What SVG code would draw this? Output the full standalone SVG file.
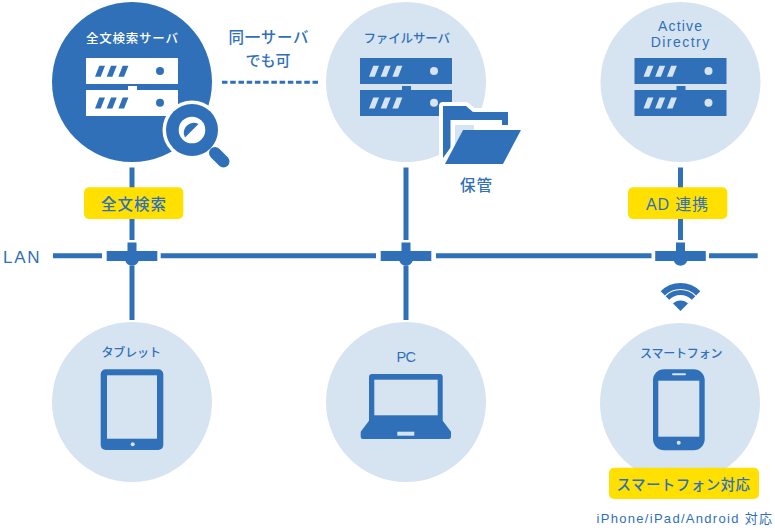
<svg xmlns="http://www.w3.org/2000/svg" xmlns:xlink="http://www.w3.org/1999/xlink" width="775" height="530" viewBox="0 0 775 530">
  <style>
    text { font-family: "Noto Sans CJK JP", "Noto Sans", sans-serif; font-weight: 500; fill: #2f70b9; text-anchor: start; }
    text.latin { font-family: "Liberation Sans", "Noto Sans CJK JP", sans-serif; font-weight: 400; }
    .disc { fill: #d6e3f0; }
    .disc-on { fill: #2f70b9; }
    .ink { fill: #2f70b9; }
    .paper { fill: #ffffff; }
    .tint { fill: #d6e3f0; }
    .pill { fill: #ffe000; }
    .wire { stroke: #2f70b9; stroke-width: 5; fill: none; }
    .wave { stroke: #2f70b9; fill: none; }
  </style>
  <defs>
    <g id="rack">
      <rect x="0" y="0" width="92" height="26"/>
      <path d="M0 32H42V28H51V32H92V58H0Z"/>
    </g>
    <g id="rack-marks">
      <g id="slashes">
        <path d="M9 18.7 13.3 7.7H19L14.7 18.7Z"/>
        <path d="M20.7 18.7 25 7.7H30.7L26.4 18.7Z"/>
        <path d="M32.4 18.7 36.7 7.7H42.4L38.1 18.7Z"/>
      </g>
      <use xlink:href="#slashes" href="#slashes" y="31.7"/>
      <circle cx="74" cy="13" r="4"/>
      <circle cx="74" cy="44.7" r="4"/>
    </g>
    <g id="tee">
      <path d="M-25.3 -5H-4.5V-13.5H4.5V-5H25.3V5H6.6A7 7 0 0 1 -6.6 5H-25.3Z"/>
    </g>
  </defs>

  <g id="connectors">
    <path class="wire" d="M53 255.8H102M160.7 255.8H376M436 255.8H651.5M709 255.8H757.7"/>
    <path class="wire" d="M132 167.5V240M132 265.5V320M406 167.5V240M406 265.5V320M680.5 167.5V240"/>
    <path d="M222 82.3H318" stroke="#2f70b9" stroke-width="3" stroke-dasharray="5.5 2.73" fill="none"/>
    <use xlink:href="#tee" href="#tee" class="ink" x="132" y="256"/>
    <use xlink:href="#tee" href="#tee" class="ink" x="406" y="256"/>
    <use xlink:href="#tee" href="#tee" class="ink" x="680.5" y="256"/>
  </g>

  <g id="lan-label">
    <text class="latin" x="3" y="263" font-size="17" textLength="36.5" lengthAdjust="spacing">LAN</text>
  </g>

  <g id="same-server-note">
    <text x="228.5" y="42.500" font-size="15.500" textLength="80" lengthAdjust="spacing">同一サーバ</text>
    <text x="245.500" y="66" font-size="15" textLength="45" lengthAdjust="spacing">でも可</text>
  </g>

  <g id="search-server">
    <circle class="disc-on" cx="132" cy="82" r="80"/>
    <text x="86" y="42.500" font-size="12.500" style="fill:#fff" textLength="92" lengthAdjust="spacing">全文検索サーバ</text>
    <use xlink:href="#rack" href="#rack" class="paper" x="86" y="58"/>
    <use xlink:href="#rack-marks" href="#rack-marks" class="ink" x="86" y="58"/>
    <g id="magnifier">
      <circle cx="192" cy="130" r="29.500" fill="#fff"/>
      <path d="M211 150 223 162" stroke="#fff" stroke-width="16" stroke-linecap="round"/>
      <circle class="ink" cx="192" cy="130" r="26"/>
      <circle class="paper" cx="192" cy="130" r="13.300"/>
      <path class="ink" d="M185 137.500A10 10 0 0 1 198.500 124Z"/>
      <path d="M215 153 223.500 161.500" stroke="#2f70b9" stroke-width="12" stroke-linecap="round"/>
    </g>
  </g>

  <g id="file-server">
    <circle class="disc" cx="406" cy="82" r="80"/>
    <text x="363.500" y="42.500" font-size="12.500" textLength="86.500" lengthAdjust="spacing">ファイルサーバ</text>
    <use xlink:href="#rack" href="#rack" class="ink" x="360" y="58"/>
    <use xlink:href="#rack-marks" href="#rack-marks" class="tint" x="360" y="58"/>
    <g id="folder">
      <path d="M443 106H466L473 112H508V130L521 130 503 164H445L443 160Z" fill="#fff" stroke="#fff" stroke-width="8" stroke-linejoin="round"/>
      <path class="ink" d="M443 106H466L473 112H508V125H443Z"/>
      <path class="ink" d="M443 120H451V147L443 158Z"/>
      <path class="paper" d="M450.500 120H502V130H463L450.500 156Z"/>
      <path class="tint" d="M455 125H474V130H463L455 146Z"/>
      <path class="ink" d="M463 130H521L503 164H445Z"/>
    </g>
    <text x="460" y="191" font-size="15.500" textLength="32" lengthAdjust="spacing">保管</text>
  </g>

  <g id="active-directory">
    <circle class="disc" cx="680.500" cy="82" r="80"/>
    <text class="latin" x="658" y="31" font-size="14" textLength="44" lengthAdjust="spacing">Active</text>
    <text class="latin" x="650.700" y="47.300" font-size="14" textLength="58.500" lengthAdjust="spacing">Directry</text>
    <use xlink:href="#rack" href="#rack" class="ink" x="634.500" y="58"/>
    <use xlink:href="#rack-marks" href="#rack-marks" class="tint" x="634.500" y="58"/>
  </g>

  <g id="search-tag">
    <rect class="pill" x="84" y="187.300" width="99.300" height="31.700" rx="5"/>
    <text x="101" y="209.500" font-size="15.500" textLength="65" lengthAdjust="spacing">全文検索</text>
  </g>

  <g id="ad-tag">
    <rect class="pill" x="628" y="187.300" width="99.300" height="31.700" rx="5"/>
    <text class="latin" x="646" y="209.500" font-size="16" textLength="62" lengthAdjust="spacing">AD 連携</text>
  </g>

  <g id="wifi">
    <path class="wave" stroke-width="6" d="M662.800 293.300A25 25 0 0 1 698.200 293.300"/>
    <path class="wave" stroke-width="5" d="M667.400 297.900A18.500 18.500 0 0 1 693.600 297.900"/>
    <path class="ink" d="M680.500 311 673 303.500A10.600 10.600 0 0 1 688 303.500Z"/>
  </g>

  <g id="tablet">
    <circle class="disc" cx="132" cy="402" r="80"/>
    <text x="101.500" y="357" font-size="12" textLength="59.500" lengthAdjust="spacing">タブレット</text>
    <rect class="ink" x="100.700" y="369.300" width="62.600" height="80.700" rx="5"/>
    <rect class="tint" x="107" y="375.300" width="50" height="63.400"/>
    <circle class="tint" cx="132.700" cy="444.300" r="2"/>
  </g>

  <g id="pc">
    <circle class="disc" cx="406" cy="402" r="80"/>
    <text class="latin" x="396.500" y="361.500" font-size="14.500" textLength="19.500" lengthAdjust="spacing">PC</text>
    <path class="ink" d="M369 377Q369 374 372 374H440Q442.700 374 442.700 377V420.700L451 431.700V436.500Q451 439 448.500 439H363.200Q360.700 439 360.700 436.500V431.700L369 420.700Z"/>
    <rect class="tint" x="374.300" y="379.700" width="63.400" height="35.600"/>
    <rect class="tint" x="397.300" y="431.700" width="17" height="4"/>
  </g>

  <g id="smartphone">
    <circle class="disc" cx="680" cy="403" r="80"/>
    <text x="640" y="357.500" font-size="12" textLength="82.500" lengthAdjust="spacing">スマートフォン</text>
    <rect class="ink" x="653" y="369.300" width="51.700" height="81" rx="11"/>
    <rect class="tint" x="658.300" y="380.700" width="41" height="56"/>
    <rect class="tint" x="672" y="373.300" width="14" height="2" rx="1"/>
    <circle class="tint" cx="678.700" cy="442.700" r="2"/>
  </g>

  <g id="smartphone-tag">
    <rect class="pill" x="609" y="467.700" width="150" height="31.300" rx="5"/>
    <text x="616.500" y="489.500" font-size="14.500" textLength="133.500" lengthAdjust="spacing">スマートフォン対応</text>
  </g>

  <g id="device-note">
    <text class="latin" x="596.500" y="522.500" font-size="13" textLength="175.500" lengthAdjust="spacing">iPhone/iPad/Android 対応</text>
  </g>
</svg>
